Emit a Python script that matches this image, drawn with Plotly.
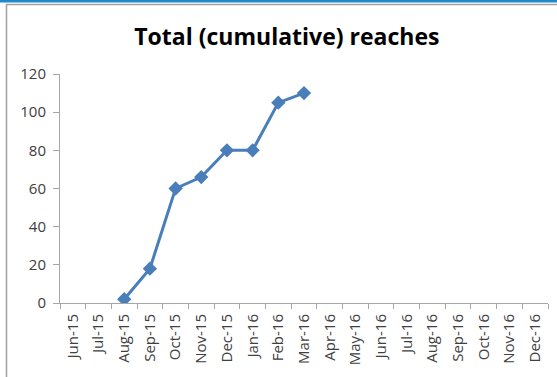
import plotly.graph_objects as go

months = ["Jun-15", "Jul-15", "Aug-15", "Sep-15", "Oct-15", "Nov-15", "Dec-15",
          "Jan-16", "Feb-16", "Mar-16", "Apr-16", "May-16", "Jun-16", "Jul-16",
          "Aug-16", "Sep-16", "Oct-16", "Nov-16", "Dec-16"]
data_months = ["Aug-15", "Sep-15", "Oct-15", "Nov-15", "Dec-15", "Jan-16", "Feb-16", "Mar-16"]
reaches = [2, 18, 60, 66, 80, 80, 105, 110]

W, H = 557, 377
L, R, T, B = 60, 9, 74, 74
pw = W - L - R
ph = H - T - B

def px(x):
    return (x - L) / pw

def py(y):
    return (H - B - y) / ph

fig = go.Figure()
fig.add_trace(go.Scatter(
    x=data_months, y=reaches, mode="lines+markers",
    line=dict(color="#4A7EBB", width=3),
    marker=dict(symbol="diamond", size=11, color="#4A7EBB"),
    showlegend=False,
))

fig.update_layout(
    width=W, height=H,
    margin=dict(l=L, r=R, t=T, b=B),
    paper_bgcolor="white", plot_bgcolor="white",
    title=dict(text="<b>Total (cumulative) reaches</b>", x=0.515, xanchor="center",
               y=1 - 37 / H, yanchor="middle",
               font=dict(family="Open Sans", size=23, color="black")),
    xaxis=dict(type="category", categoryorder="array", categoryarray=months,
               range=[-0.5, 18.5], tickangle=-90, tickson="boundaries",
               ticks="outside", ticklen=5, tickcolor="#A6A6A6",
               showline=True, linecolor="#A6A6A6", linewidth=1,
               showgrid=False, zeroline=False, ticklabelstandoff=4,
               tickfont=dict(family="Open Sans", size=15, color="#404040")),
    yaxis=dict(range=[0, 120], dtick=20, ticks="outside", ticklen=6,
               tickcolor="#A6A6A6", showline=True, linecolor="#A6A6A6",
               linewidth=1, showgrid=False, zeroline=False, ticklabelstandoff=4,
               tickfont=dict(family="Open Sans", size=15, color="#404040")),
    shapes=[
        dict(type="rect", xref="paper", yref="paper", x0=px(0), x1=px(W),
             y0=py(0), y1=py(2.5), fillcolor="#1F8ACB", line=dict(width=0)),
        dict(type="line", xref="paper", yref="paper", x0=px(6), x1=px(W),
             y0=py(4.5), y1=py(4.5), line=dict(color="#A0A0A0", width=1.5)),
        dict(type="line", xref="paper", yref="paper", x0=px(6.5), x1=px(6.5),
             y0=py(4), y1=py(H), line=dict(color="#A0A0A0", width=1.5)),
    ],
)

fig.write_html("out.html")
